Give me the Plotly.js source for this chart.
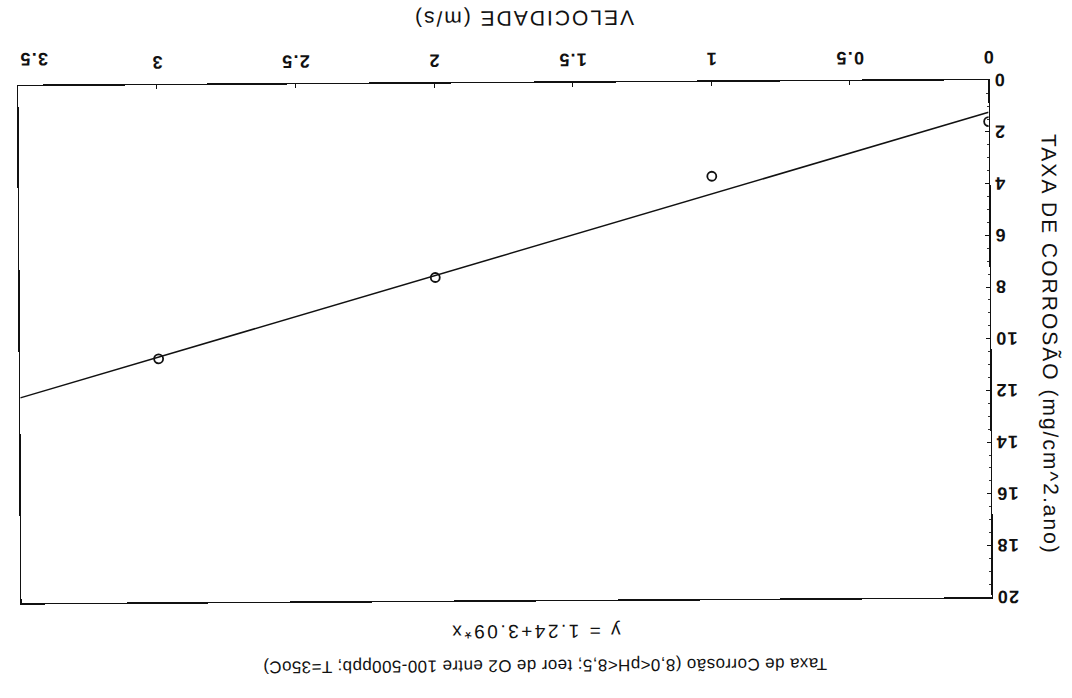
<!DOCTYPE html>
<html><head><meta charset="utf-8">
<script src="https://cdn.plot.ly/plotly-3.0.1.min.js"></script>
<style>
html,body{margin:0;padding:0;background:#fff;overflow:hidden;}
#chart{width:1072px;height:698px;transform:rotate(179.65deg);transform-origin:50% 50%;}
#chart .annotation[data-index="0"] text{letter-spacing:0.4px;}
#chart .annotation[data-index="1"] text{letter-spacing:2.5px;}
#chart .annotation[data-index="2"] text{letter-spacing:2px;}
#chart .annotation[data-index="3"] text{letter-spacing:2px;}
#chart .annotation[data-index="4"] text{letter-spacing:1.2px;}
#chart .xtick text, #chart .ytick text{letter-spacing:1.2px;}
</style></head>
<body><div id="chart"></div>
<script>
// Data (the scanned chart is shown upside-down)
const velocidade = [0, 1, 2, 3];
const taxaCorrosao = [1.6, 3.65, 7.5, 10.58];
const ajusteX = [0, 3.5];
const ajusteY = [1.24, 12.06];
const xTicks = [0, 0.5, 1, 1.5, 2, 2.5, 3, 3.5];
const xTickText = ['0', '0.5', '1', '1.5', '2', '2.5', '3', ''];
const xUltimoTick = 3.5;
const xUltimoTexto = '3.5';
const yTicks = [0, 2, 4, 6, 8, 10, 12, 14, 16, 18, 20];
const tituloTexto = 'Taxa de Corrosão (8,0<pH<8,5; teor de O2 entre 100-500ppb; T=35oC)';
const equacaoTexto = 'y = 1.24+3.09*x';
const xTitulo = 'VELOCIDADE (m/s)';
const yTitulo = 'TAXA DE CORROSÃO (mg/cm^2.ano)';

const font = 'Arial, "Liberation Sans", sans-serif';

const traces = [
  {x: ajusteX, y: ajusteY, mode: 'lines', line: {color: '#111', width: 1.5}, hoverinfo: 'skip'},
  {x: velocidade, y: taxaCorrosao, mode: 'markers',
   marker: {symbol: 'circle-open', size: 9, color: '#111', line: {width: 1.8, color: '#111'}}}
];

const layout = {
  width: 1072, height: 698,
  margin: {l: 82, r: 20, t: 98, b: 83},
  paper_bgcolor: '#fff', plot_bgcolor: '#fff',
  showlegend: false,
  font: {family: font, color: '#111', size: 16},
  xaxis: {
    range: [0, 3.5], tickvals: xTicks, ticktext: xTickText,
    showline: true, mirror: true, linecolor: '#111', linewidth: 1.5,
    ticks: 'inside', ticklen: 4, tickcolor: '#111',
    ticklabelstandoff: 6,
    showgrid: false, zeroline: false,
    tickfont: {size: 18, family: font, weight: 'bold'}
  },
  yaxis: {
    range: [0, 20], tickvals: yTicks,
    showline: true, mirror: true, linecolor: '#111', linewidth: 1.5,
    ticks: 'inside', ticklen: 4, tickcolor: '#111',
    minor: {ticks: 'inside', ticklen: 2, dtick: 0.5, tickcolor: '#333'},
    showgrid: false, zeroline: false,
    tickfont: {size: 18, family: font, weight: 'bold'}
  },
  annotations: [
    {text: tituloTexto, xref: 'paper', yref: 'paper', x: 0.461, y: 1, yshift: 66,
     showarrow: false, font: {size: 17, family: font}, xanchor: 'center', yanchor: 'middle'},
    {text: equacaoTexto, xref: 'paper', yref: 'paper', x: 0.471, y: 1, yshift: 32,
     showarrow: false, font: {size: 19, family: font}, xanchor: 'center', yanchor: 'middle'},
    {text: xTitulo, xref: 'paper', yref: 'paper', x: 0.479, y: 0, yshift: -64,
     showarrow: false, font: {size: 21, family: font}, xanchor: 'center', yanchor: 'middle'},
    {text: yTitulo, xref: 'paper', yref: 'paper', x: 0, xshift: -60, y: 0.511, textangle: -90,
     showarrow: false, font: {size: 21, family: font}, xanchor: 'center', yanchor: 'middle'},
    {text: xUltimoTexto, xref: 'x', yref: 'paper', x: xUltimoTick, xshift: -16, y: 0, yshift: -27,
     showarrow: false, font: {size: 18, family: font, weight: 'bold'}, xanchor: 'center', yanchor: 'middle'}
  ]
};

Plotly.newPlot('chart', traces, layout, {displayModeBar: false, staticPlot: true});
</script></body></html>
